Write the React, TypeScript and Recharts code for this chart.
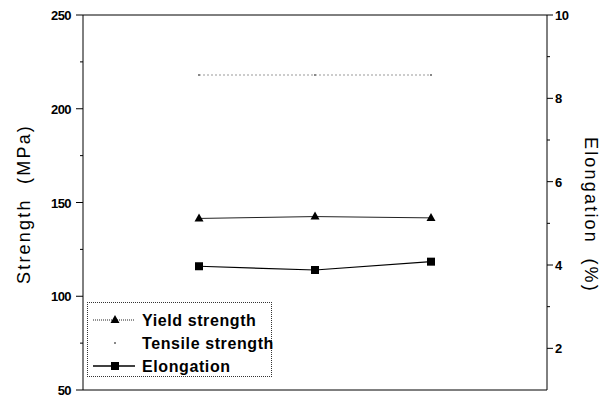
import { LineChart, Line, XAxis, YAxis, ReferenceLine, Legend, Label } from "recharts";

const samples = [1, 2, 3];
const yieldStrength = [141.5, 142.5, 141.8];
const tensileStrength = [218, 218, 218];
const elongation = [3.97, 3.88, 4.08];

const strengthTicks = [50, 75, 100, 125, 150, 175, 200, 225, 250];
const elongationTicks = [2, 3, 4, 5, 6, 7, 8, 9, 10];
const seriesNames = ["Yield strength", "Tensile strength", "Elongation"];

const data = samples.map((s, i) => ({
  sample: s,
  yieldStrength: yieldStrength[i],
  tensileStrength: tensileStrength[i],
  elongation: elongation[i],
}));

const tickFont = {
  fontFamily: "'Liberation Sans', Arial, sans-serif",
  fontWeight: 700,
  fontSize: 13,
  letterSpacing: -0.6,
};

const titleFont = {
  fontFamily: "'Liberation Sans', Arial, sans-serif",
  fontSize: 18,
  letterSpacing: 2.2,
  whiteSpace: "pre" as const,
};

function LeftTick(props: any) {
  const { x, y, payload } = props;
  const major = payload.value % 50 === 0;
  return (
    <g>
      <line x1={x - (major ? 7 : 3)} x2={x} y1={y} y2={y} stroke="#000" />
      {major && (
        <text x={x - 12} y={y} dy={5} textAnchor="end" fill="#000" style={tickFont}>
          {payload.value}
        </text>
      )}
    </g>
  );
}

function RightTick(props: any) {
  const { x, y, payload } = props;
  const major = payload.value % 2 === 0;
  return (
    <g>
      <line x1={x} x2={x + (major ? 6 : 3)} y1={y} y2={y} stroke="#000" />
      {major && (
        <text x={x + 8} y={y} dy={5} textAnchor="start" fill="#000" style={tickFont}>
          {payload.value}
        </text>
      )}
    </g>
  );
}

function Triangle(props: any) {
  const { cx, cy, index } = props;
  return (
    <path
      key={`tri-${index}`}
      d={`M${cx},${cy - 5}L${cx + 4.5},${cy + 3}L${cx - 4.5},${cy + 3}Z`}
      fill="#000"
    />
  );
}

function Square(props: any) {
  const { cx, cy, index } = props;
  return <rect key={`sq-${index}`} x={cx - 4} y={cy - 4} width={8} height={8} fill="#000" />;
}

function Dot(props: any) {
  const { cx, cy, index } = props;
  return <rect key={`dt-${index}`} x={cx - 1} y={cy - 1} width={2} height={2} fill="#888" />;
}

function LegendBox() {
  const textStyle = {
    fontFamily: "'Liberation Sans', Arial, sans-serif",
    fontWeight: 700,
    fontSize: 16,
    letterSpacing: 0.6,
  };
  return (
    <div
      style={{
        width: 185,
        height: 75,
        border: "1px dotted #333",
        boxSizing: "border-box",
        position: "relative",
      }}
    >
      <svg width={200} height={75} style={{ position: "absolute", left: 0, top: 0, overflow: "visible" }}>
        {seriesNames.map((name, i) => {
          const y = 17 + i * 23;
          return (
            <g key={name}>
              {i === 0 && (
                <>
                  <line x1={5} x2={47} y1={y} y2={y} stroke="#222" strokeDasharray="1 1" />
                  <path d={`M27,${y - 5}L31.5,${y + 3}L22.5,${y + 3}Z`} fill="#000" />
                </>
              )}
              {i === 1 && <rect x={26} y={y - 1} width={2} height={2} fill="#888" />}
              {i === 2 && (
                <>
                  <line x1={5} x2={47} y1={y} y2={y} stroke="#000" strokeWidth={1.5} />
                  <rect x={23} y={y - 4} width={8} height={8} fill="#000" />
                </>
              )}
              <text x={54} y={y + 6} fill="#000" style={textStyle}>
                {name}
              </text>
            </g>
          );
        })}
      </svg>
    </div>
  );
}

export default function App() {
  return (
    <div style={{ position: "absolute", left: 0, top: 0, background: "#fff" }}>
      <LineChart
        width={614}
        height={399}
        data={data}
        margin={{ top: 15, right: 0, bottom: 9, left: 0 }}
      >
        <XAxis dataKey="sample" type="number" domain={[0, 4]} hide />
        <YAxis
          yAxisId="left"
          width={83}
          domain={[50, 250]}
          ticks={strengthTicks}
          interval={0}
          tickSize={0}
          tickMargin={0}
          tickLine={false}
          tick={<LeftTick />}
          axisLine={{ stroke: "#000" }}
        >
          <Label
            content={() => (
              <text
                x={24}
                y={204}
                transform="rotate(-90 24 204)"
                textAnchor="middle"
                dominantBaseline="central"
                fill="#000"
                style={titleFont}
              >
                {"Strength  (MPa)"}
              </text>
            )}
          />
        </YAxis>
        <YAxis
          yAxisId="right"
          orientation="right"
          width={67}
          domain={[1, 10]}
          ticks={elongationTicks}
          interval={0}
          tickSize={0}
          tickMargin={0}
          tickLine={false}
          tick={<RightTick />}
          axisLine={{ stroke: "#000" }}
        >
          <Label
            content={() => (
              <text
                x={591}
                y={215}
                transform="rotate(90 591 215)"
                textAnchor="middle"
                dominantBaseline="central"
                fill="#000"
                style={titleFont}
              >
                {"Elongation  (%)"}
              </text>
            )}
          />
        </YAxis>
        <ReferenceLine yAxisId="left" y={250} stroke="#000" />
        <ReferenceLine yAxisId="left" y={50} stroke="#000" />
        <Line
          yAxisId="left"
          dataKey="tensileStrength"
          stroke="#999"
          strokeDasharray="2 2"
          strokeWidth={1}
          dot={<Dot />}
          isAnimationActive={false}
        />
        <Line
          yAxisId="left"
          dataKey="yieldStrength"
          stroke="#222"
          strokeWidth={1}
          dot={<Triangle />}
          isAnimationActive={false}
        />
        <Line
          yAxisId="right"
          dataKey="elongation"
          stroke="#000"
          strokeWidth={1.2}
          dot={<Square />}
          isAnimationActive={false}
        />
        <Legend
          layout="vertical"
          align="center"
          verticalAlign="middle"
          wrapperStyle={{ left: 87, top: 302, width: 185, height: 75 }}
          content={() => <LegendBox />}
        />
      </LineChart>
    </div>
  );
}
